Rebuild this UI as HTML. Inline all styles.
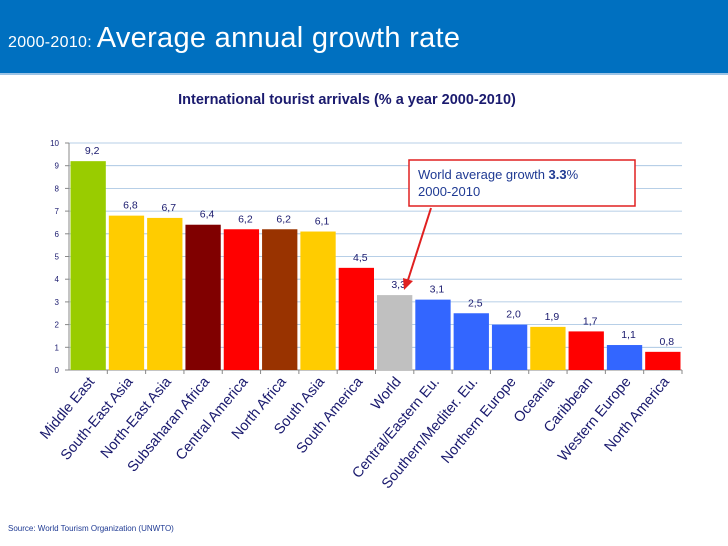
<!DOCTYPE html>
<html><head><meta charset="utf-8"><style>
body{margin:0;width:728px;height:546px;background:#fff;font-family:"Liberation Sans",sans-serif;overflow:hidden;position:relative}
#hdr{position:absolute;left:0;top:0;width:728px;height:73px;background:#0070c0;border-bottom:2px solid #9cc3e5}
#hdr span{position:absolute;left:8px;top:22px;color:#fff;white-space:nowrap}
</style></head><body>
<div id="hdr"><span><span style="position:static;font-size:16px;letter-spacing:0.3px">2000-2010: </span><span style="position:static;font-size:29px;letter-spacing:0.3px">Average annual growth rate</span></span></div>
<svg id="c" width="728" height="546" style="position:absolute;left:0;top:0"></svg>
<script>
const categories=["Middle East","South-East Asia","North-East Asia","Subsaharan Africa","Central America","North Africa","South Asia","South America","World","Central/Eastern Eu.","Southern/Mediter. Eu.","Northern Europe","Oceania","Caribbean","Western Europe","North America"];
const values=[9.2,6.8,6.7,6.4,6.2,6.2,6.1,4.5,3.3,3.1,2.5,2.0,1.9,1.7,1.1,0.8];
const colors=["#99cc00","#ffcc00","#ffcc00","#800000","#ff0000","#993300","#ffcc00","#ff0000","#c0c0c0","#3366ff","#3366ff","#3366ff","#ffcc00","#ff0000","#3366ff","#ff0000"];
const yTicks=[0,1,2,3,4,5,6,7,8,9,10];
const NS="http://www.w3.org/2000/svg",svg=document.getElementById('c');
const X0=69,X1=682,Y0=370,Y10=143;
const slot=(X1-X0)/categories.length;
const y=v=>Y0-(Y0-Y10)*v/10;
const x=i=>X0+i*slot;
function mk(t,a,txt){const e=document.createElementNS(NS,t);for(const k in a)e.setAttribute(k,a[k]);if(txt!=null)e.textContent=txt;svg.appendChild(e);return e;}
let e=mk('text',{x:347,y:104,'text-anchor':'middle','font-size':14.5,'font-weight':'bold',fill:'#1a1a6e'},'International tourist arrivals  (% a year 2000-2010)');


yTicks.forEach(t=>{
 if(t>0){const g=mk('line',{x1:X0,x2:X1,y1:y(t),y2:y(t),stroke:'#9fbfdf','stroke-width':0.8});
 
 }
 mk('line',{x1:X0-4,x2:X0,y1:y(t),y2:y(t),stroke:'#888'});
 const l=mk('text',{x:X0-10,y:y(t)+3,'text-anchor':'end','font-size':8,fill:'#1a1a6e'},t);
 
 
});
mk('line',{x1:X0,x2:X0,y1:Y10,y2:Y0,stroke:'#888'});
mk('line',{x1:X0,x2:X1,y1:Y0,y2:Y0,stroke:'#888'});
values.forEach((v,i)=>{
 const b=mk('rect',{x:x(i)+1.5,y:y(v),width:slot-3,height:Y0-y(v),fill:colors[i]});
 
 
 const lb=mk('text',{x:x(i)+slot/2+4,y:y(v)-7,'text-anchor':'middle','font-size':10.5,fill:'#1a1a6e'},v.toFixed(1).replace('.',','));
 
 
 mk('line',{x1:x(i+1),x2:x(i+1),y1:Y0,y2:Y0+4,stroke:'#888'});
 const cx=x(i)+slot/2+7,cy=Y0+12;
 const cl=mk('text',{x:cx,y:cy,'text-anchor':'end','font-size':14.5,fill:'#1a1a6e',transform:`rotate(-50 ${cx} ${cy})`},categories[i]);
 
 
});
const box=mk('rect',{x:409,y:160,width:226,height:46,fill:'#fff',stroke:'#e02020','stroke-width':1.5});


const t1=mk('text',{x:418,y:179,'font-size':13,fill:'#1f3a93'});t1.innerHTML='World average growth <tspan font-weight="bold">3.3</tspan>%';


mk('text',{x:418,y:196,'font-size':13,fill:'#1f3a93'},'2000-2010');
const ar=mk('line',{x1:431,y1:208,x2:408,y2:280,stroke:'#e02020','stroke-width':2});


mk('polygon',{points:'404,290 403,278 413,281',fill:'#e02020'});
const src=mk('text',{x:8,y:531,'font-size':8,fill:'#1f3a93'},'Source: World Tourism Organization (UNWTO)');


</script>
</body></html>
